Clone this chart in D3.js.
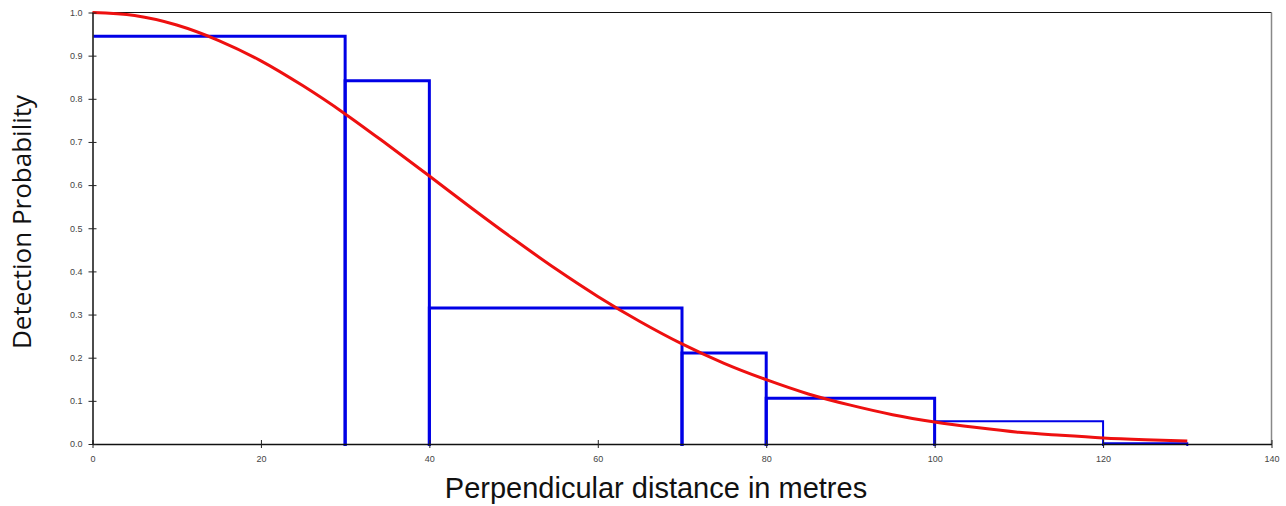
<!DOCTYPE html>
<html><head><meta charset="utf-8">
<script src="https://cdn.jsdelivr.net/npm/d3@7"></script>
<style>body{margin:0;background:#fff}svg{display:block}</style>
</head><body>
<svg id="c" width="1286" height="506"></svg>
<script>
// Histogram bins (distance intervals, metres) and scaled detection proportions
const binStarts = [0, 30, 40, 70, 80, 100, 120];
const binEnds   = [30, 40, 70, 80, 100, 120, 130];
const binValues = [0.945, 0.842, 0.315, 0.211, 0.106, 0.053, 0.002];
// Fitted detection function
const curveX = [0,5,10,15,20,25,30,35,40,45,50,55,60,65,70,75,80,85,90,95,100,105,110,115,120,125,130];
const curveY = [1.000,0.993,0.971,0.935,0.888,0.830,0.765,0.694,0.621,0.547,0.475,0.406,0.342,0.284,0.232,0.187,0.149,0.116,0.090,0.068,0.051,0.038,0.027,0.020,0.014,0.010,0.007];
const xTicks = [0,20,40,60,80,100,120,140];
const yTicks = [0,0.1,0.2,0.3,0.4,0.5,0.6,0.7,0.8,0.9,1.0];

const svg = d3.select("#c");
const L=92.5, R=1271.5, T=12.5, B=444;
const x = d3.scaleLinear().domain([0,140]).range([L,R]);
const y = d3.scaleLinear().domain([0,1]).range([B,T]);

// frame: top black, right gray
svg.append("line").attr("x1",L).attr("x2",R).attr("y1",T).attr("y2",T).attr("stroke","#111").attr("stroke-width",1.2);
svg.append("line").attr("x1",R).attr("x2",R).attr("y1",T).attr("y2",B).attr("stroke","#888").attr("stroke-width",1.5);

// bars (outline)
const bars = binStarts.map((s,i)=>({s, e:binEnds[i], v:binValues[i]}));
svg.append("g").selectAll("path").data(bars).join("path")
  .attr("d", d=> d.s === x.domain()[0]
      ? `M${x(d.s)+1},${y(d.v)}H${x(d.e)}V${y(0)+2}`
      : `M${x(d.s)},${y(0)+2}V${y(d.v)}H${x(d.e)}V${y(0)+2}`)
  .attr("fill","none").attr("stroke","#0000e6")
  .attr("stroke-width",(d,i)=> i>=5 ? 2 : 3);

// curve
svg.append("path").datum(curveX.map((d,i)=>[d,curveY[i]]))
  .attr("d", d3.line().x(d=>x(d[0])).y(d=>y(d[1])).curve(d3.curveMonotoneX))
  .attr("fill","none").attr("stroke","#ee1010").attr("stroke-width",3);

// axes
const xAxis = d3.axisBottom(x).tickValues(xTicks).tickFormat(d3.format("d")).tickSizeInner(4).tickSizeOuter(0).tickPadding(6);
const gx = svg.append("g").attr("transform",`translate(0,${B})`).call(xAxis);
gx.selectAll(".tick line").attr("y1",-4).attr("y2",4).attr("stroke","#222");
gx.select(".domain").attr("stroke","#111").attr("stroke-width",1.5);
gx.selectAll("text").attr("font-family","Liberation Sans, Arial, sans-serif").attr("font-size",9).attr("fill","#444").attr("dy","0.9em");

const yAxis = d3.axisLeft(y).tickValues(yTicks).tickFormat(d3.format(".1f")).tickSizeInner(4).tickSizeOuter(0).tickPadding(6);
const gy = svg.append("g").attr("transform",`translate(${L},0)`).call(yAxis);
gy.selectAll(".tick line").attr("x1",-4).attr("x2",4).attr("stroke","#222");
gy.select(".domain").attr("stroke","#111").attr("stroke-width",1.5);
gy.selectAll("text").attr("font-family","Liberation Sans, Arial, sans-serif").attr("font-size",9).attr("fill","#444");

// titles
svg.append("text").attr("x",656).attr("y",498).attr("text-anchor","middle")
  .attr("font-family","Liberation Sans, Arial, sans-serif").attr("font-size",29).attr("fill","#111")
  .text("Perpendicular distance in metres");
svg.append("text").attr("transform","translate(31,222) rotate(-90)").attr("text-anchor","middle")
  .attr("font-family","Open Sans, Noto Sans, sans-serif").attr("font-size",26).attr("fill","#111")
  .text("Detection Probability");
</script>
</body></html>
